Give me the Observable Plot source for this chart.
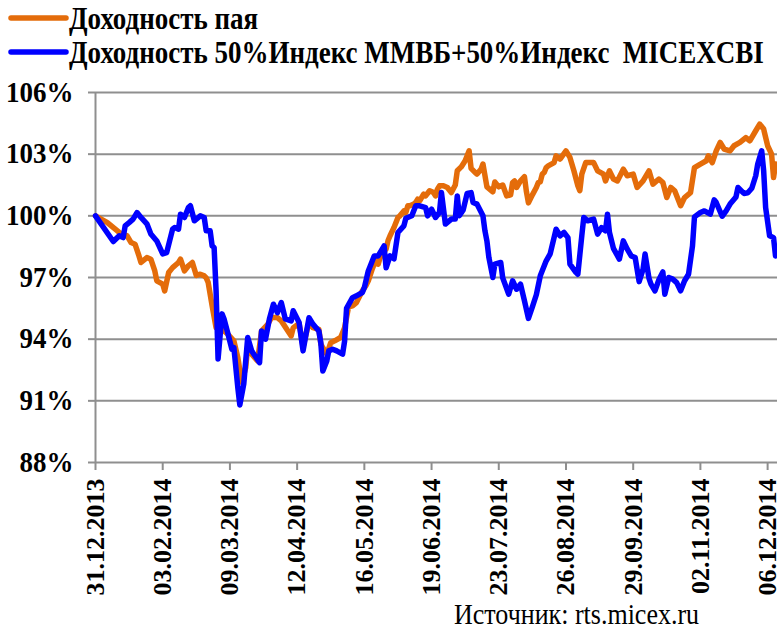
<!DOCTYPE html>
<html>
<head>
<meta charset="utf-8">
<script src="https://cdn.jsdelivr.net/npm/d3@7"></script>
<script src="https://cdn.jsdelivr.net/npm/@observablehq/plot@0.6"></script>
<style>
  html, body { margin: 0; padding: 0; background: #fff; }
  #wrap { position: relative; width: 777px; height: 637px; overflow: hidden; font-family: "Liberation Serif", "Times New Roman", serif; }
  #wrap > svg { position: absolute; left: 0; top: 0; }
</style>
</head>
<body>
<div id="wrap"></div>
<script>
// ---- data ----
const startDate = "2013-12-31";
const lastDay = 345;
const tickDates = ["2013-12-31","2014-02-03","2014-03-09","2014-04-12","2014-05-16","2014-06-19","2014-07-23","2014-08-26","2014-09-29","2014-11-02","2014-12-06"];
const yTicks = [88, 91, 94, 97, 100, 103, 106];
const seriesNames = ["Доходность пая", "Доходность 50%Индекс ММВБ+50%Индекс  MICEXCBI"];
const sourceText = "Источник: rts.micex.ru";

// days since 31.12.2013
const fundDays = [0,6,10,12,16,18,20,22,23,26,28,30,31,34,35,37,39,42,43,45,47,49,50,51,53,55,56,57,59,61,64,67,70,72,74,76,77,79,82,84,87,89,92,94,97,99,100,103,105,108,110,113,114,115,117,119,121,124,126,127,128,130,132,135,137,138,140,142,143,144,146,147,148,149,151,153,154,156,157,158,159,161,162,163,164,166,167,169,171,172,173,174,176,178,180,182,183,185,187,189,190,192,193,195,196,198,201,202,204,206,208,210,211,212,213,215,217,218,219,221,223,224,225,226,227,228,229,232,233,235,238,240,242,244,245,246,248,250,252,254,257,258,260,262,264,267,269,272,274,277,280,282,285,287,289,291,293,296,298,301,303,306,309,310,312,314,316,318,321,323,326,329,331,334,336,338,340,342,343,344];
const fundValues = [100,99.67,99.35,99.19,99.03,98.70,98.62,98.05,97.73,97.97,97.89,97.32,96.84,96.68,96.35,97.24,97.48,97.73,97.89,97.32,97.57,97.73,97.41,97.10,97.16,97.08,96.98,96.76,95.62,94.56,94.48,94.24,93.92,93.10,91.90,92.62,93.67,93.27,92.94,94.40,94.70,95.05,95.05,94.89,94.45,94.16,94.55,94.77,93.63,94.84,94.56,94.48,93.76,93.58,93.27,93.83,93.92,94.08,94.55,95.05,95.57,95.62,95.78,96.35,96.64,96.84,97.42,97.89,97.65,97.97,98.30,98.38,98.80,99.03,99.43,99.92,100.0,100.24,100.16,100.49,100.49,100.57,100.65,100.81,100.73,101.06,100.97,101.22,101.13,100.97,101.30,101.46,101.46,101.38,101.13,101.50,102.19,102.38,102.68,103.16,102.31,102.11,102.03,102.26,102.52,101.41,101.17,101.65,101.41,101.50,100.97,101.02,101.62,101.70,101.38,101.70,101.90,101.17,100.63,101.02,101.38,101.62,101.65,102.03,102.11,102.35,102.43,102.59,102.92,102.76,103.16,102.84,102.19,101.46,101.22,102.03,102.59,102.59,102.59,102.19,102.03,101.70,102.19,101.79,101.70,102.27,101.95,102.03,101.38,101.70,102.19,101.54,101.79,101.62,100.89,101.38,101.22,100.49,100.89,101.13,102.35,102.52,102.68,102.92,102.59,103.16,103.57,103.25,103.16,103.41,103.57,103.81,103.65,104.14,104.46,104.22,103.41,103.00,101.86,102.52];

const benchDays = [0,9,12,14,15,17,19,21,23,26,28,31,34,36,39,40,42,43,45,47,48,50,53,55,56,58,59,60,61,62,64,65,67,69,70,72,73,75,77,79,83,84,86,88,90,92,94,96,99,100,103,105,108,110,113,114,115,117,118,120,122,125,126,127,130,132,135,136,138,141,143,146,147,149,151,153,156,157,160,162,164,167,168,170,172,174,175,177,180,182,183,184,186,188,190,191,193,196,197,198,199,201,202,205,206,209,211,213,215,217,219,221,223,225,228,230,233,235,237,239,240,243,244,246,247,249,252,254,256,258,259,260,262,265,267,269,271,273,275,277,278,280,281,283,285,287,288,290,292,294,296,298,300,302,303,306,308,311,313,314,317,319,321,324,325,328,330,332,334,335,337,338,339,341,343,344];
const benchValues = [100,98.75,99.03,98.94,99.51,99.67,99.84,100.16,99.92,99.61,99.12,98.78,98.15,98.21,99.35,99.43,99.35,100.08,99.92,100.40,100.49,99.76,100.0,99.92,99.27,99.27,98.54,98.46,96.35,93.04,95.23,94.99,94.26,93.51,93.59,91.64,90.80,91.82,94.08,93.43,92.86,94.40,94.00,94.99,95.70,95.29,95.78,94.99,94.89,95.38,94.81,93.43,95.04,94.73,94.40,93.80,92.45,92.94,93.43,93.51,93.43,93.27,93.90,95.50,96.02,96.11,96.27,96.51,97.32,98.05,98.05,98.54,97.47,98.05,97.91,99.19,99.51,99.88,100.0,100.49,100.49,100.40,100.0,100.33,99.92,100.16,101.13,99.60,99.84,99.84,100.97,100.0,100.29,101.09,101.13,100.65,100.57,100.0,99.27,98.78,97.97,97.00,97.65,97.73,96.98,96.19,96.84,96.43,96.68,95.86,95.01,95.57,96.16,97.08,97.81,98.15,99.35,99.03,99.19,98.94,97.65,97.25,97.16,99.03,99.92,99.76,99.84,99.11,99.43,99.27,100.08,99.19,98.42,97.89,98.78,98.38,98.05,97.97,96.80,97.41,98.14,96.96,96.68,96.35,96.89,97.27,96.19,97.00,96.92,96.75,96.35,96.84,97.16,98.54,99.95,100.16,100.24,100.08,100.78,100.65,99.98,100.24,100.57,100.92,101.38,101.09,101.12,101.34,101.95,102.52,103.16,102.19,100.40,99.03,98.94,98.05];

const colors = ["#E46C0A", "#0000FF"];

// ---- build tables ----
const parse = d3.utcParse("%Y-%m-%d");
const start = parse(startDate);
const fmt = d3.utcFormat("%d.%m.%Y");
const toRows = (days, vals) => days.map((d, i) => ({date: d3.utcDay.offset(start, d), value: vals[i]}));
const fund = toRows(fundDays, fundValues);
const bench = toRows(benchDays, benchValues);
const ticks = tickDates.map(parse);
const gridColor = "#8f8f8f";
const serif = "'Liberation Serif', 'Times New Roman', serif";

const chart = Plot.plot({
  width: 777,
  height: 637,
  marginLeft: 95,
  marginRight: 0,
  marginTop: 92,
  marginBottom: 175,
  style: {fontFamily: serif, fontWeight: "bold", background: "transparent", color: "#000"},
  x: {type: "utc", domain: [start, d3.utcDay.offset(start, lastDay)]},
  y: {domain: [88, 106]},
  marks: [
    Plot.gridY(yTicks, {stroke: gridColor, strokeOpacity: 1, strokeWidth: 2}),
    Plot.ruleX([start], {stroke: gridColor, strokeWidth: 2}),
    Plot.axisY({ticks: yTicks, tickFormat: d => d + "%", tickSize: 7, tickPadding: 15, stroke: gridColor, strokeWidth: 2, fill: "#000", fontSize: 29, fontWeight: "bold", label: null}),
    Plot.axisX({ticks: ticks, tickFormat: fmt, tickRotate: -90, tickSize: 8, tickPadding: 8, stroke: gridColor, strokeWidth: 2, fill: "#000", fontSize: 26, fontWeight: "bold", label: null}),
    Plot.line(fund, {x: "date", y: "value", stroke: colors[0], strokeWidth: 5.5, strokeLinejoin: "round", strokeLinecap: "round"}),
    Plot.line(bench, {x: "date", y: "value", stroke: colors[1], strokeWidth: 5.5, strokeLinejoin: "round", strokeLinecap: "round"})
  ]
});

const wrap = document.getElementById("wrap");
wrap.appendChild(chart);

// slightly condensed y tick labels, like the reference
d3.select(chart).selectAll('g[aria-label="y-axis tick label"] text').each(function() {
  const w = this.getComputedTextLength();
  d3.select(this).attr("textLength", w * 0.93).attr("lengthAdjust", "spacingAndGlyphs");
});

// ---- legend (above the plot area) and source (below) ----
const lg = d3.select(wrap).append("svg")
  .attr("width", 777).attr("height", 637)
  .style("font-family", serif);
const rows = [{y: 18, base: 29}, {y: 52, base: 63}];
seriesNames.forEach((name, i) => {
  lg.append("line").attr("x1", 11).attr("x2", 66).attr("y1", rows[i].y).attr("y2", rows[i].y)
    .attr("stroke", colors[i]).attr("stroke-width", 5.5).attr("stroke-linecap", "round");
  lg.append("text")
    .attr("transform", `translate(69,${rows[i].base}) scale(1,1.15)`)
    .attr("xml:space", "preserve").style("white-space", "pre")
    .style("font-weight", "bold").style("font-size", "27px")
    .text(name);
});
lg.append("text")
  .attr("transform", "translate(454,624) scale(1,1.1)")
  .style("font-size", "26px")
  .text(sourceText);
</script>
</body>
</html>
